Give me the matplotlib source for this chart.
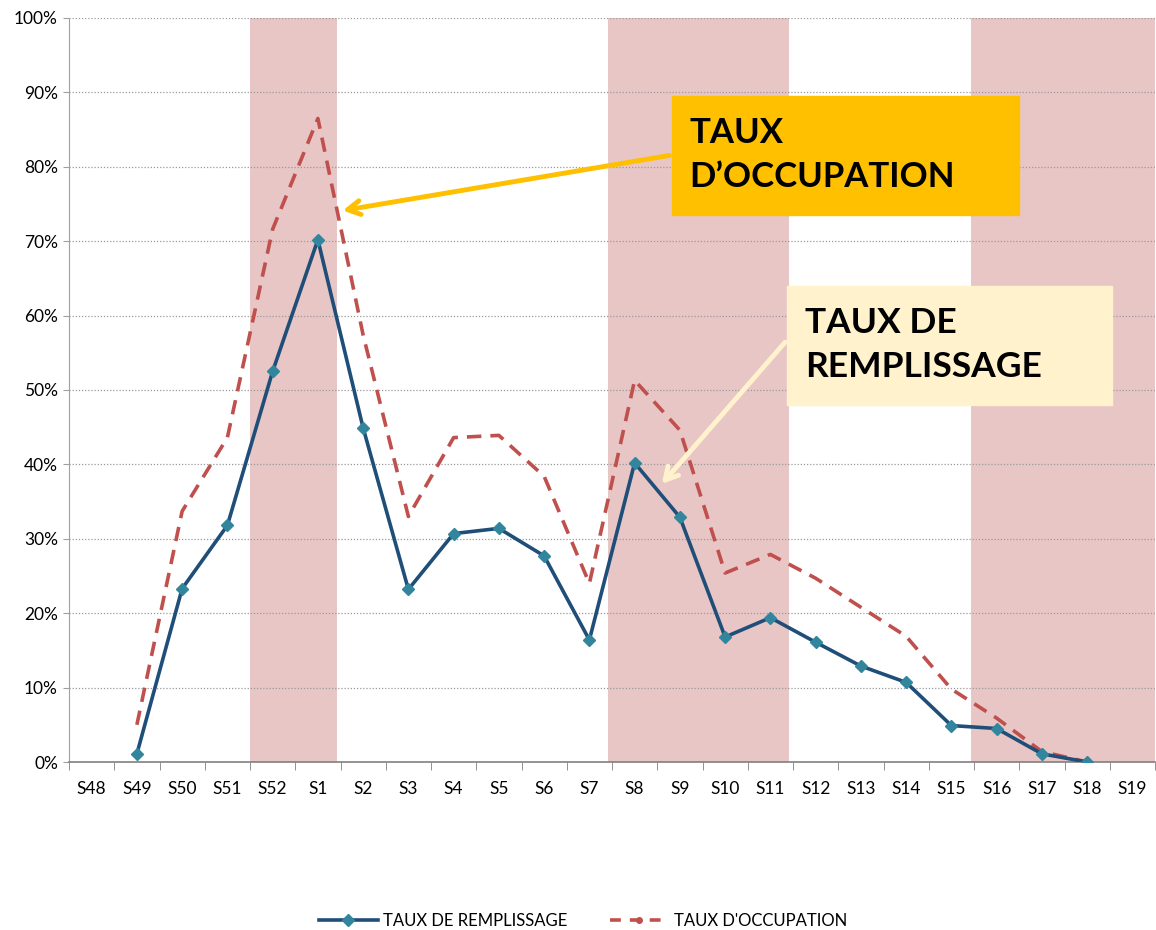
import matplotlib
matplotlib.use('Agg')
import matplotlib.pyplot as plt
from matplotlib.patches import Rectangle
from matplotlib.lines import Line2D
import numpy as np

plt.rcParams['font.family'] = ['Lato', 'DejaVu Sans']

# données
semaines = ['S48', 'S49', 'S50', 'S51', 'S52', 'S1', 'S2', 'S3', 'S4', 'S5', 'S6', 'S7',
            'S8', 'S9', 'S10', 'S11', 'S12', 'S13', 'S14', 'S15', 'S16', 'S17', 'S18', 'S19']
remplissage = [np.nan, 1.1, 23.3, 31.8, 52.5, 70.2, 44.9, 23.2, 30.7, 31.4, 27.7, 16.4,
               40.2, 32.9, 16.8, 19.4, 16.1, 12.9, 10.7, 4.9, 4.5, 1.1, 0.0, np.nan]
occupation = [np.nan, 5.0, 33.7, 43.6, 71.6, 86.5, 57.4, 33.0, 43.6, 43.9, 38.4, 24.0,
              51.3, 44.6, 25.4, 27.9, 24.7, 20.8, 16.9, 9.8, 5.9, 1.4, 0.0, np.nan]
# périodes de vacances (index début, index fin)
vacances = [(3.5, 5.42), (11.42, 15.42), (19.43, 23.5)]

W, H = 1156, 930
fig = plt.figure(figsize=(W / 100, H / 100), dpi=100)
ax = fig.add_axes([69 / W, 1 - 762 / H, (1155 - 69) / W, (762 - 18) / H])

x = np.arange(len(semaines))
for a, b in vacances:
    ax.axvspan(a, b, color='#E8C6C6', zorder=0.2, lw=0)

ax.plot(x, remplissage, color='#1F4E79', lw=2.6, marker='D', markersize=6,
        markerfacecolor='#31859C', markeredgecolor='#31859C', zorder=3)
ax.plot(x, occupation, color='#C0504D', lw=2.6, ls=(0, (4, 2.5)), zorder=2)

ax.set_xlim(-0.5, len(semaines) - 0.5)
ax.set_ylim(0, 100)
ax.set_yticks(np.arange(0, 101, 10))
ax.set_yticklabels([f'{v}%' for v in range(0, 101, 10)], fontsize=12.5)
ax.set_xticks(x)
ax.set_xticklabels(semaines, fontsize=12.5)
ax.set_xticks(np.arange(-0.5, len(semaines)), minor=True)
ax.tick_params(axis='x', which='major', length=0, pad=14)
ax.tick_params(axis='x', which='minor', length=6, color='#808080', direction='out')
ax.tick_params(axis='y', length=4, color='#A0A0A0', pad=4)

ax.set_axisbelow(True)
ax.yaxis.grid(True, color='#9A9A9A', ls=(0, (1, 1.5)), lw=0.9)
for s in ['top', 'right']:
    ax.spines[s].set_visible(False)
ax.spines['left'].set_color('#A0A0A0')
ax.spines['left'].set_linestyle((0, (1, 1)))
ax.spines['bottom'].set_color('#808080')
ax.spines['bottom'].set_linewidth(1.2)


def fx(px):
    return px / W


def fy(py):
    return 1 - py / H


# encadré TAUX D'OCCUPATION
fig.patches.append(Rectangle((fx(672), fy(215)), fx(1019) - fx(672), fy(96) - fy(215),
                             transform=fig.transFigure, color='#FFC000', zorder=5))
fig.text(fx(689), fy(155), 'TAUX\nD’OCCUPATION', fontsize=25, fontweight='bold',
         va='center', ha='left', linespacing=1.45, zorder=6)
ax.annotate('', xy=(fx(340), fy(211)), xytext=(fx(672), fy(155)),
            xycoords='figure fraction', textcoords='figure fraction',
            arrowprops=dict(arrowstyle='->,head_length=0.9,head_width=0.5',
                            color='#FFC000', lw=3.5), zorder=6)

# encadré TAUX DE REMPLISSAGE
fig.patches.append(Rectangle((fx(787), fy(405)), fx(1112) - fx(787), fy(286) - fy(405),
                             transform=fig.transFigure, color='#FFF2CC', zorder=5))
fig.text(fx(805), fy(345), 'TAUX DE\nREMPLISSAGE', fontsize=25.5, fontweight='bold',
         va='center', ha='left', linespacing=1.45, zorder=6)
ax.annotate('', xy=(fx(660), fy(486)), xytext=(fx(787), fy(340)),
            xycoords='figure fraction', textcoords='figure fraction',
            arrowprops=dict(arrowstyle='->,head_length=0.9,head_width=0.5',
                            color='#FFF2CC', lw=3.5), zorder=6)

handles = [
    Line2D([], [], color='#1F4E79', lw=2.6, marker='D', markersize=6,
           markerfacecolor='#31859C', markeredgecolor='#31859C'),
    Line2D([], [], color='#C0504D', lw=2.6, ls=(0, (3, 2.5)), marker='o', markersize=4),
]
fig.legend(handles, ['TAUX DE REMPLISSAGE', "TAUX D'OCCUPATION"], loc='center',
           bbox_to_anchor=(fx(583), fy(921)), ncol=2, frameon=False, fontsize=12,
           handlelength=3.5, columnspacing=2.6, handletextpad=0.3)

fig.savefig('out.png', dpi=100)
